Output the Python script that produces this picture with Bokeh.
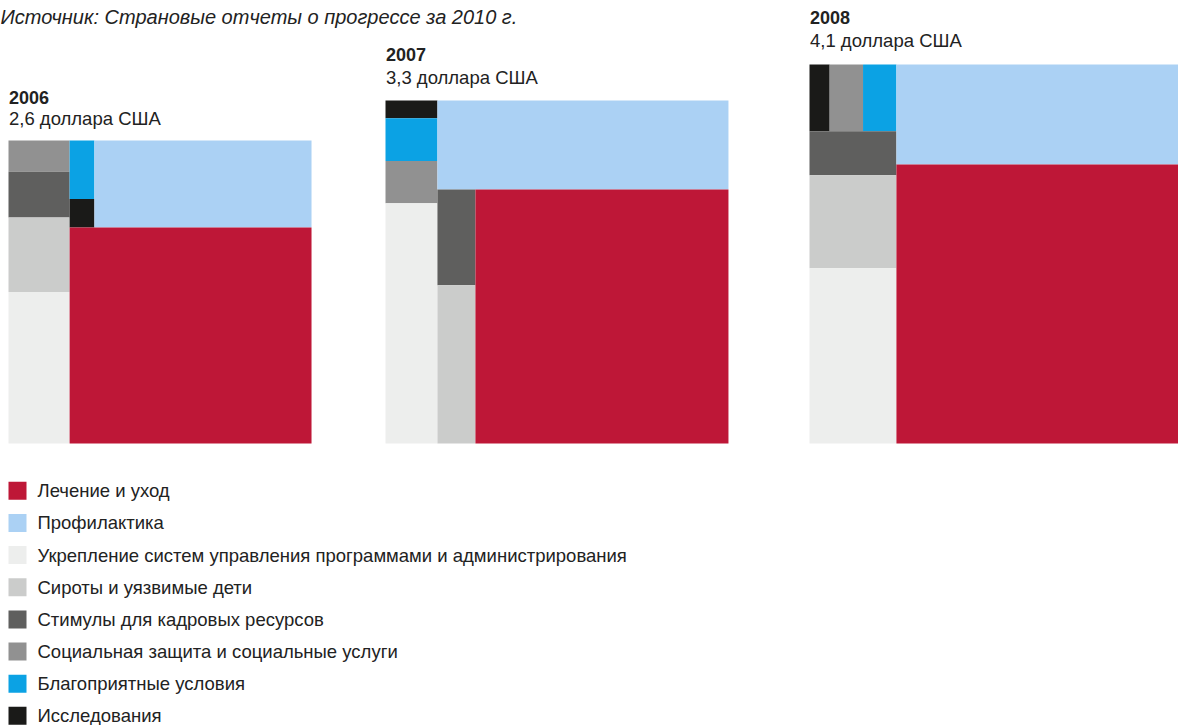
from bokeh.plotting import figure
from bokeh.models import Range1d, ColumnDataSource
from bokeh.core.properties import value
from bokeh.embed import file_html
from bokeh.resources import INLINE
import math

# ---------------- data ----------------
categories = [
    "Лечение и уход",
    "Профилактика",
    "Укрепление систем управления программами и администрирования",
    "Сироты и уязвимые дети",
    "Стимулы для кадровых ресурсов",
    "Социальная защита и социальные услуги",
    "Благоприятные условия",
    "Исследования",
]
keys = ["T", "P", "A", "O", "St", "So", "E", "R"]
years = ["2006", "2007", "2008"]
total_labels = ["2,6 доллара США", "3,3 доллара США", "4,1 доллара США"]
values_2006 = [1.479, 0.534, 0.262, 0.129, 0.079, 0.054, 0.041, 0.020]
values_2007 = [1.818, 0.733, 0.353, 0.170, 0.103, 0.062, 0.063, 0.026]
values_2008 = [2.305, 0.826, 0.431, 0.229, 0.108, 0.063, 0.063, 0.038]
source_note = "Источник: Страновые отчеты о прогрессе за 2010 г."

# ---------------- styles ----------------
colors = {
    "T": "#BE1737", "P": "#ABD1F4", "A": "#EDEEED", "O": "#CBCCCB",
    "St": "#5F5F5E", "So": "#919191", "E": "#0BA2E4", "R": "#1A1A18",
}
FONT = "Liberation Sans"
TEXT_COLOR = "#222222"
W, H = 1178, 725
PX_PER_SQRT = 188.0          # side of square = PX_PER_SQRT * sqrt(total)
square_left = [8, 385, 809]  # layout anchors
square_bottom = 443
year_offset = [43, 46, 47]   # title placement above each square
value_offset = [22, 23, 24]

# nested slice layouts ("h" = left-to-right, "v" = top-to-bottom)
structures = [
    ("h", [("v", ["So", "St", "O", "A"]),
           ("v", [("h", [("v", ["E", "R"]), "P"]), "T"])]),
    ("h", [("v", ["R", "E", "So", "A"]),
           ("v", ["P", ("h", [("v", ["St", "O"]), "T"])])]),
    ("h", [("v", [("h", ["R", "So", "E"]), "St", "O", "A"]),
           ("v", ["P", "T"])]),
]


def node_sum(node, vals):
    if isinstance(node, str):
        return vals[node]
    return sum(node_sum(c, vals) for c in node[1])


def lay(node, x0, y0, x1, y1, vals, out):
    if isinstance(node, str):
        out.append((node, x0, y0, x1, y1))
        return
    d, children = node
    tot = node_sum(node, vals)
    pos = x0 if d == "h" else y0
    for c in children:
        frac = node_sum(c, vals) / tot
        if d == "h":
            w = (x1 - x0) * frac
            lay(c, pos, y0, pos + w, y1, vals, out)
            pos += w
        else:
            h = (y1 - y0) * frac
            lay(c, x0, pos, x1, pos + h, vals, out)
            pos += h


p = figure(width=W, height=H, x_range=Range1d(0, W), y_range=Range1d(H, 0),
           output_backend="svg", toolbar_location=None,
           x_axis_location=None, y_axis_location=None, min_border=0)
p.grid.visible = False
p.outline_line_color = None
p.background_fill_color = "white"
p.border_fill_color = "white"

all_vals = [values_2006, values_2007, values_2008]
rects = dict(left=[], right=[], top=[], bottom=[], color=[])
tx, ty, tt = [], [], []
vx, vy, vt = [], [], []
for i, vals_list in enumerate(all_vals):
    vals = dict(zip(keys, vals_list))
    total = sum(vals_list)
    side = PX_PER_SQRT * math.sqrt(total)
    x0 = square_left[i]
    y1 = square_bottom
    y0 = y1 - side
    out = []
    lay(structures[i], x0, y0, x0 + side, y1, vals, out)
    for k, a, b, c, d in out:
        rects["left"].append(a)
        rects["right"].append(c)
        rects["top"].append(b)
        rects["bottom"].append(d)
        rects["color"].append(colors[k])
    tx.append(x0 + 0.5); ty.append(y0 - year_offset[i]); tt.append(years[i])
    vx.append(x0 + 0.5); vy.append(y0 - value_offset[i]); vt.append(total_labels[i])

p.quad(left="left", right="right", top="top", bottom="bottom",
       fill_color="color", line_color=None, source=ColumnDataSource(rects))

p.text(x=tx, y=ty, text=tt, text_font=value(FONT), text_font_size="18px",
       text_font_style="bold", text_color=TEXT_COLOR, text_baseline="middle")
p.text(x=vx, y=vy, text=vt, text_font=value(FONT), text_font_size="18.5px",
       text_color=TEXT_COLOR, text_baseline="middle")

# source note
p.text(x=[0], y=[16], text=[source_note], text_font=value(FONT),
       text_font_size="20px", text_font_style="italic", text_color=TEXT_COLOR,
       text_baseline="alphabetic")

# legend
LEG_Y0, LEG_STEP, SQ = 490.3, 32.15, 18
ly = [LEG_Y0 + i * LEG_STEP for i in range(len(categories))]
p.quad(left=[8] * len(categories), right=[8 + SQ] * len(categories),
       top=[y - SQ / 2 for y in ly], bottom=[y + SQ / 2 for y in ly],
       fill_color=[colors[k] for k in keys], line_color=None)
p.text(x=[37] * len(categories), y=ly, text=categories, text_font=value(FONT),
       text_font_size="18.5px", text_color=TEXT_COLOR, text_baseline="middle")

open("out.html", "w").write(file_html(p, INLINE))
